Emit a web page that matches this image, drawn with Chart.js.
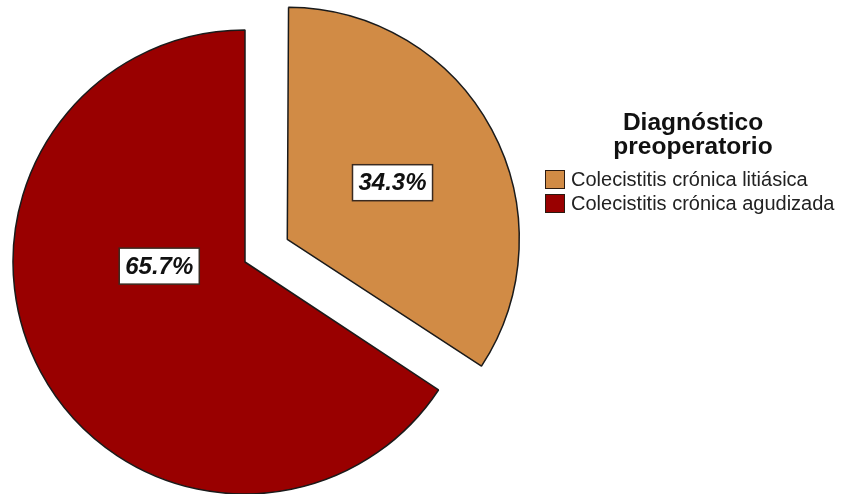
<!DOCTYPE html>
<html>
<head>
<meta charset="utf-8">
<script src="https://cdn.jsdelivr.net/npm/chart.js@4.4.1/dist/chart.umd.min.js"></script>
<style>
  html, body { margin: 0; padding: 0; background: #fff; }
  #wrap { position: relative; width: 844px; height: 494px; }
  #legend { position: absolute; left: 545px; top: 110px; width: 299px; font-family: "Liberation Sans", Arial, sans-serif; color: #222; }
  #legend .title { font-weight: bold; font-size: 24.5px; line-height: 24px; text-align: center; width: 296px; color: #111; }
  #legend .item { display: flex; align-items: center; height: 24px; font-size: 20px; white-space: nowrap; }
  #legend .box { width: 20px; height: 19px; border: 1.5px solid #2a1a10; margin-right: 6px; box-sizing: border-box; flex: none; }
</style>
</head>
<body>
<div id="wrap">
  <canvas id="pieChart" width="844" height="494"></canvas>
  <div id="legend"></div>
</div>
<script>
// data
const legendTitle = ["Diagnóstico", "preoperatorio"];
const categories = ["Colecistitis crónica litiásica", "Colecistitis crónica agudizada"];
const percentages = [34.3, 65.7];
const sliceColors = ["#D18B45", "#990000"];

// legend
const legend = document.getElementById("legend");
let html = '<div class="title">' + legendTitle.join("<br>") + '</div><div style="height:9px"></div>';
categories.forEach((c, i) => {
    html += '<div class="item"><span class="box" style="background:' + sliceColors[i] + '"></span>' + c + '</div>';
});
legend.innerHTML = html;

// label placement per slice: radial fraction, angle shift (deg)
const labelPlace = [
    { frac: 0.515, shift: 0 },
    { frac: 0.37, shift: 25.5 }
];

// chart.js grows an exploded arc's radius a bit, undo that so both slices keep the same size
const sameRadius = {
    id: "sameRadius",
    beforeDatasetsDraw(chart) {
        const meta = chart.getDatasetMeta(0);
        meta.data.forEach((arc) => {
            const off = (arc.options.offset || 0) / 4;
            const fix = 1 - Math.sin(Math.min(Math.PI, arc.circumference || 0));
            if (arc._baseR === undefined) arc._baseR = arc.outerRadius;
            arc.outerRadius = arc._baseR - off * fix;
        });
    }
};

const boxLabels = {
    id: "boxLabels",
    afterDatasetsDraw(chart) {
        const ctx = chart.ctx;
        const meta = chart.getDatasetMeta(0);
        ctx.save();
        ctx.font = "italic bold 24px 'Liberation Sans', Arial, sans-serif";
        ctx.textAlign = "center";
        ctx.textBaseline = "middle";
        meta.data.forEach((arc, i) => {
            const mid = (arc.startAngle + arc.endAngle) / 2;
            // chart.js moves an arc by offset / 4
            const off = (arc.options.offset || 0) / 4;
            const cx = arc.x + Math.cos(mid) * off;
            const cy = arc.y + Math.sin(mid) * off;
            const a = mid + labelPlace[i].shift * Math.PI / 180;
            const r = (arc._baseR || arc.outerRadius) * labelPlace[i].frac;
            const x = cx + Math.cos(a) * r;
            const y = cy + Math.sin(a) * r;
            const txt = percentages[i].toFixed(1) + "%";
            const w = ctx.measureText(txt).width + 12;
            const h = 36;
            ctx.fillStyle = "#fff";
            ctx.fillRect(x - w / 2, y - h / 2, w, h);
            ctx.lineWidth = 1.5;
            ctx.strokeStyle = "#3a2a20";
            ctx.strokeRect(x - w / 2, y - h / 2, w, h);
            ctx.fillStyle = "#111";
            ctx.fillText(txt, x, y + 1);
        });
        ctx.restore();
    }
};

new Chart(document.getElementById("pieChart"), {
    type: "pie",
    data: {
        labels: categories,
        datasets: [{
            data: percentages,
            backgroundColor: sliceColors,
            borderColor: "#1a1a1a",
            borderWidth: 1.5,
            offset: [192, 0],
            hoverOffset: 0,
            clip: false
        }]
    },
    options: {
        responsive: false,
        animation: false,
        events: [],
        radius: 232,
        layout: {
            padding: { left: 0, right: 354, top: 30, bottom: 0 }
        },
        plugins: {
            legend: { display: false },
            tooltip: { enabled: false }
        }
    },
    plugins: [sameRadius, boxLabels]
});
</script>
</body>
</html>
